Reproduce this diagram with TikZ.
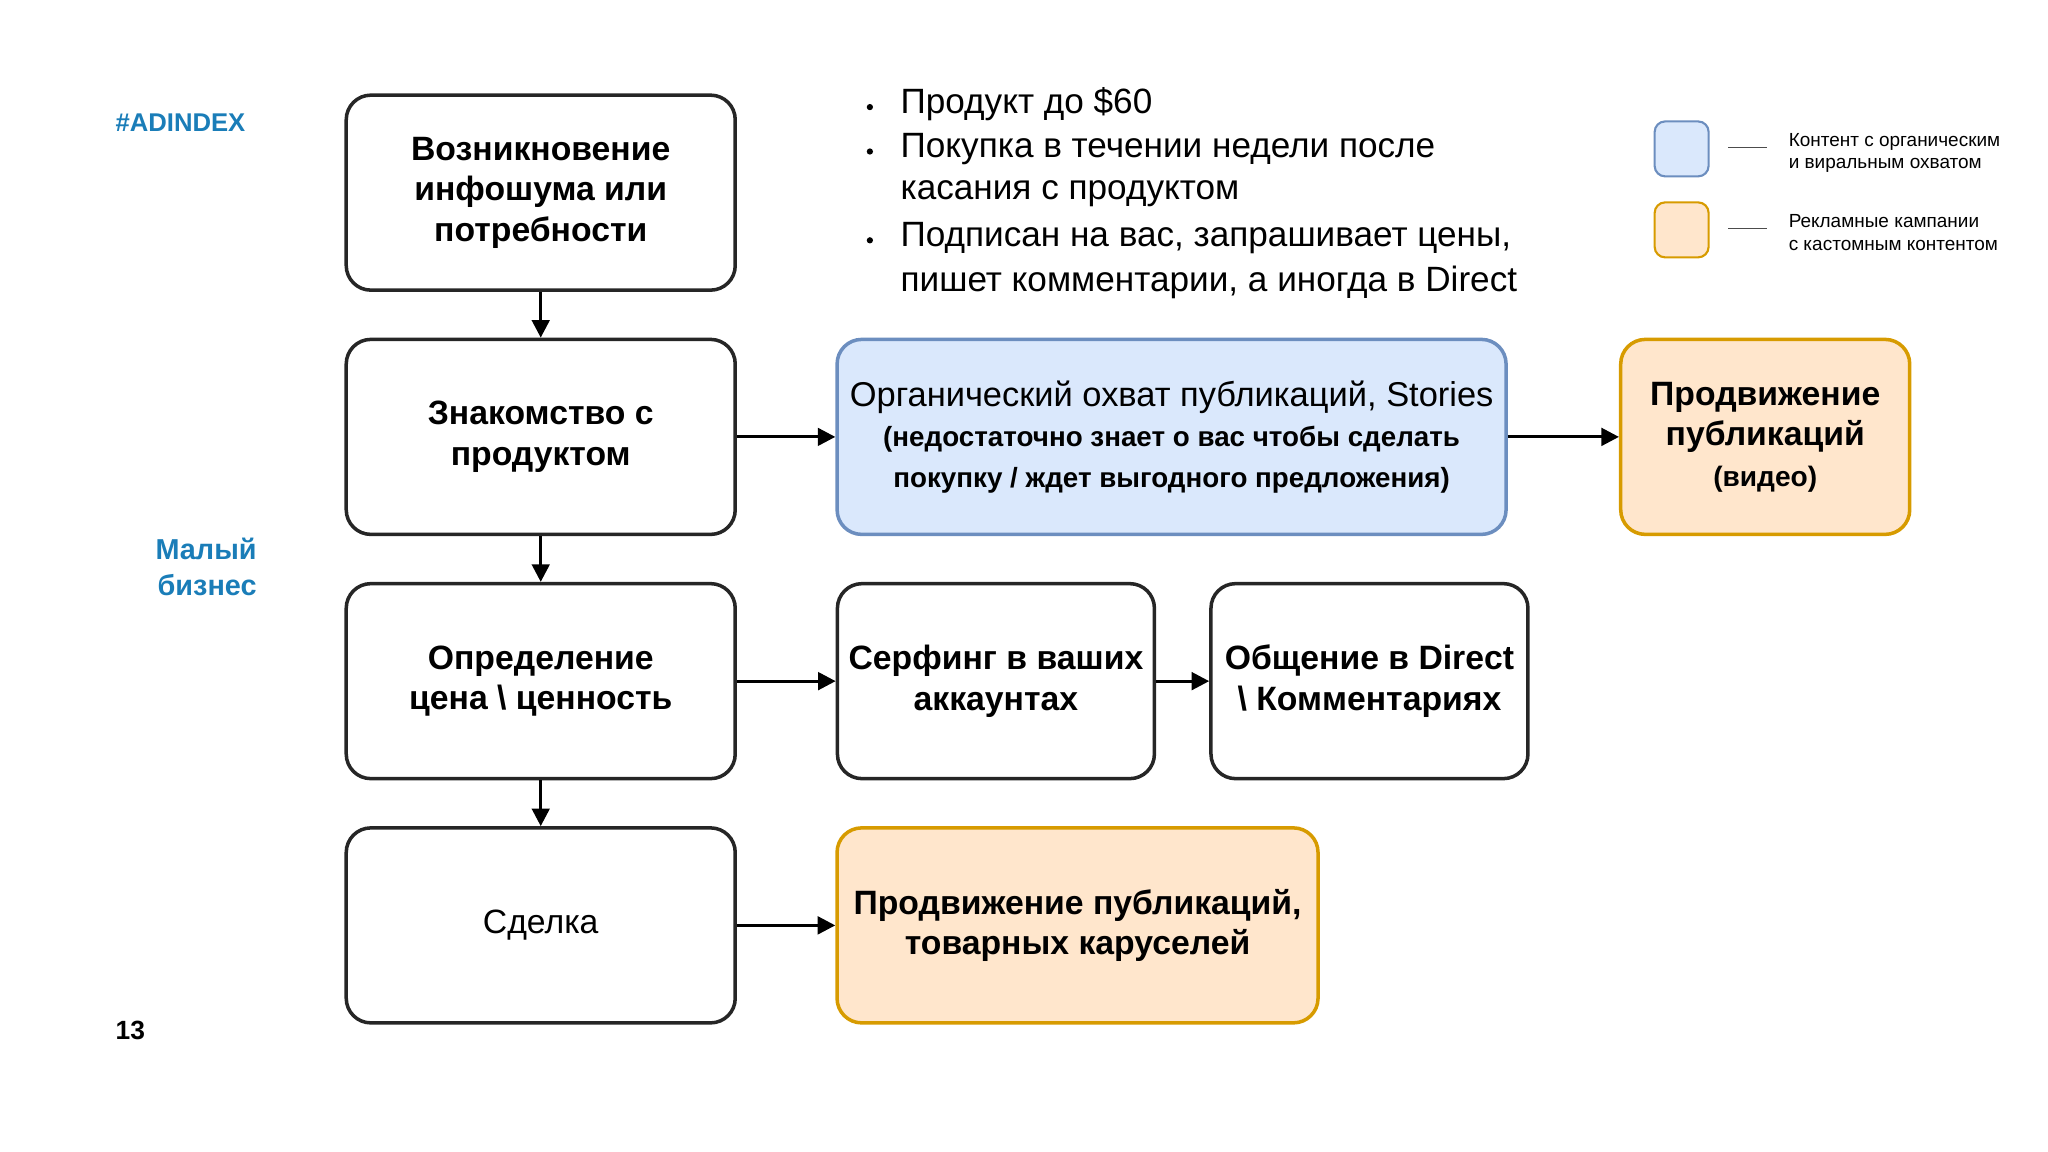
\documentclass[tikz,border=0pt]{standalone}
\usepackage{fontspec}
\setmainfont{Liberation Sans}
\usetikzlibrary{arrows.meta}
\definecolor{bfill}{HTML}{DAE8FC}\definecolor{bdraw}{HTML}{6C8EBF}
\definecolor{ofill}{HTML}{FFE6CC}\definecolor{odraw}{HTML}{D79B00}
\definecolor{adblue}{HTML}{1A7DB8}
\tikzset{
 box/.style={draw=black!85,line width=1pt,rounded corners=7pt,align=center,font=\fontsize{9.6}{11.5}\selectfont\bfseries,inner sep=1pt},
 bbox/.style={box,draw=bdraw,fill=bfill},
 obox/.style={box,draw=odraw,fill=ofill},
 arr/.style={-{Triangle[length=5pt,width=5pt]},line width=0.9pt},
 leg/.style={font=\fontsize{5.4}{6.4}\selectfont,align=left,anchor=west},
 bul/.style={font=\fontsize{10}{12.6}\selectfont,align=left,anchor=west,inner sep=0pt}
}
\begin{document}
\begin{tikzpicture}[x=0.01306cm,y=-0.01306cm]
\useasboundingbox (0,0) rectangle (1568,882);
\node[box,minimum width=3.89cm,minimum height=1.95cm] (a1) at (414,147.5) {Возникновение\\инфошума или\\потребности};
\node[box,minimum width=3.89cm,minimum height=1.95cm] (a2) at (414,334.5) {Знакомство с\\продуктом};
\node[box,minimum width=3.89cm,minimum height=1.95cm] (a3) at (414,521.5) {Определение\\цена \textbackslash{} ценность};
\node[box,minimum width=3.89cm,minimum height=1.95cm] (a4) at (414,708.5) {\mdseries Сделка};
\node[bbox,minimum width=6.69cm,minimum height=1.95cm] (b1) at (897,334.5) {{\mdseries\fontsize{9.8}{11.5}\selectfont Органический охват публикаций, Stories}\\{\fontsize{7.9}{10}\selectfont(недостаточно знает о вас чтобы сделать}\\{\fontsize{7.9}{10}\selectfont покупку / ждет выгодного предложения)}};
\node[obox,minimum width=2.89cm,minimum height=1.95cm] (b2) at (1351.5,334.5) {Продвижение\\публикаций\\{\fontsize{8}{10}\selectfont(видео)}};
\node[box,minimum width=3.17cm,minimum height=1.95cm] (c1) at (762.5,521.5) {Серфинг в ваших\\аккаунтах};
\node[box,minimum width=3.17cm,minimum height=1.95cm] (c2) at (1048.5,521.5) {Общение в Direct\\\textbackslash{} Комментариях};
\node[obox,minimum width=4.81cm,minimum height=1.95cm] (d1) at (825,708.5) {Продвижение публикаций,\\товарных каруселей};
\draw[arr] (a1) -- (a2); \draw[arr] (a2) -- (a3); \draw[arr] (a3) -- (a4);
\draw[arr] (a2) -- (b1); \draw[arr] (b1) -- (b2);
\draw[arr] (a3) -- (c1); \draw[arr] (c1) -- (c2);
\draw[arr] (a4) -- (d1);
% bullets
\foreach \y in {82,116,184} {\fill (666,\y) circle (2.4);}
\node[bul] (t1) at (689,80) {Продукт до \$60};
\node[bul] (t2) at (689,114) {Покупка в течении недели после};
\node[bul] (t3) at (689,148) {касания с продуктом};
\node[bul] (t4) at (689,182) {Подписан на вас, запрашивает цены,};
\node[bul] (t5) at (689,216) {пишет комментарии, а иногда в Direct};
% legend
\node[draw=bdraw,fill=bfill,rounded corners=3pt,minimum width=0.54cm,minimum height=0.55cm,line width=0.6pt] (l1) at (1287.5,114) {};
\node[draw=odraw,fill=ofill,rounded corners=3pt,minimum width=0.54cm,minimum height=0.55cm,line width=0.6pt] (l2) at (1287.5,176) {};
\coordinate (p1) at (1323,113); \coordinate (q1) at (1353,113);
\coordinate (p2) at (1323,175); \coordinate (q2) at (1353,175);
\draw[line width=0.5pt,black!70] (p1) -- (q1); \draw[line width=0.5pt,black!70] (p2) -- (q2);
\node[leg] (lt1) at (1360,117) {Контент с органическим\\и виральным охватом};
\node[leg] (lt2) at (1360,178) {Рекламные кампании\\с кастомным контентом};
% side
\node[anchor=west,inner sep=0pt,font=\fontsize{7.3}{9}\selectfont\bfseries,text=adblue] (ad) at (88,94) {\#ADINDEX};
\node[anchor=east,inner sep=0pt,align=right,font=\fontsize{8.2}{10.2}\selectfont\bfseries,text=adblue] (mb) at (197,434) {Малый\\бизнес};
\node[anchor=west,inner sep=0pt,font=\fontsize{7.5}{9}\selectfont\bfseries] (pg) at (88,789) {13};
\end{tikzpicture}
\end{document}
